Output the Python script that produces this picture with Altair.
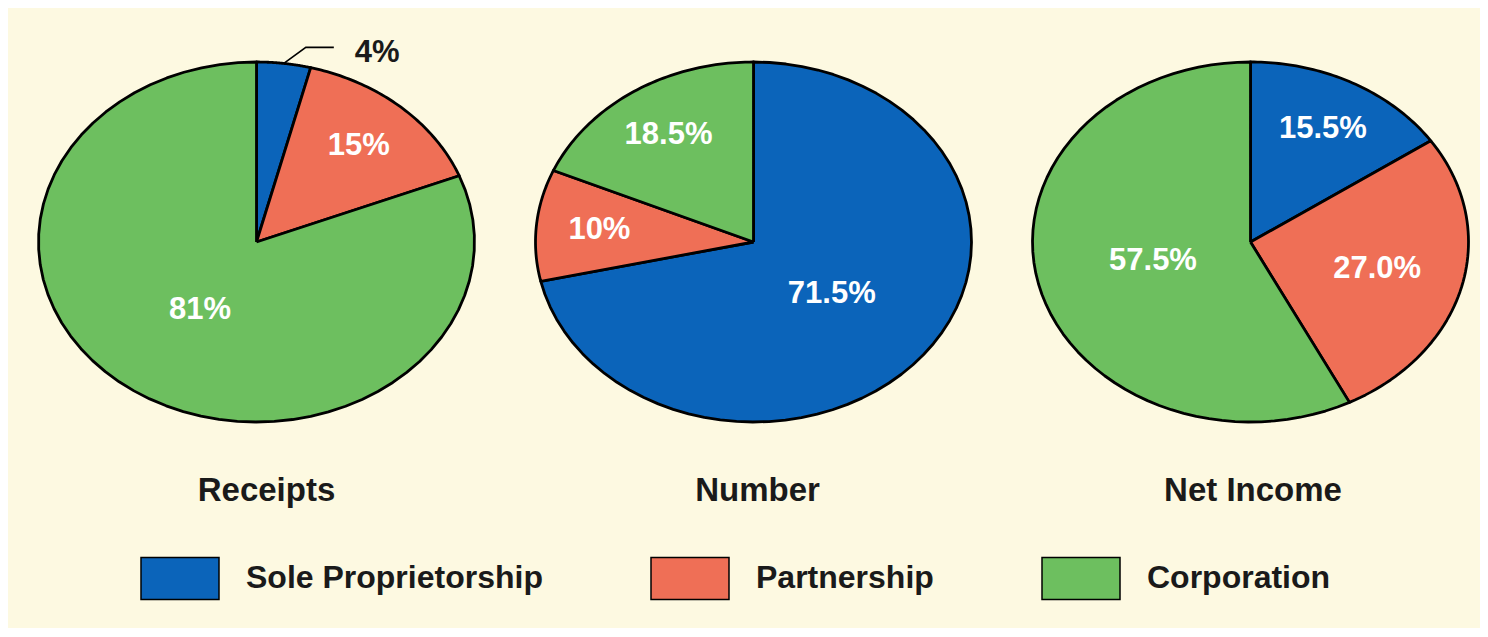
import altair as alt
import pandas as pd

# ---------------- data ----------------
pies = ["Receipts", "Number", "Net Income"]
categories = ["Sole Proprietorship", "Partnership", "Corporation"]
receipts = [4, 15, 81]
number = [71.5, 10, 18.5]
net_income = [15.5, 27.0, 57.5]
label_formats = ["{:.0f}%", "{:g}%", "{:.1f}%"]

# ---------------- style ----------------
colors = ["#0b64ba", "#ef6f56", "#6dbf5f"]
BG = "#fdf9e1"
FONT = "Liberation Sans"
TXT = "#1a1a1a"
RX, RY = 218.0, 180.0   # pixels per unit radius (horizontal / vertical)
H = 440                 # panel height
CY = 234                # pie centre from panel top
panel_widths = [497, 497, 478]
title_dx = [10, 4, 12]

rows = []
for pie, vals, fmt in zip(pies, [receipts, number, net_income], label_formats):
    for i, (cat, v) in enumerate(zip(categories, vals)):
        rows.append({"pie": pie, "cat": cat, "order": i, "value": v,
                     "label": fmt.format(v)})
df = pd.DataFrame(rows)

color_scale = alt.Scale(domain=categories, range=colors)

legend = alt.Legend(
    title=None, orient="none", legendX=132, legendY=530, direction="horizontal",
    symbolType="M-1,-0.54L1,-0.54L1,0.54L-1,0.54Z", symbolSize=6084,
    symbolStrokeColor="black", symbolStrokeWidth=1.5, symbolOpacity=1,
    labelFont=FONT, labelFontSize=32, labelFontWeight="bold", labelColor=TXT,
    labelOffset=26, columnPadding=105, padding=0, labelLimit=800,
)


def panel(name, width, tdx):
    cx = 248.5
    xs = alt.X("gx:Q", scale=alt.Scale(domain=[-cx / RX, (width - cx) / RX], nice=False, zero=False), axis=None)
    ys = alt.Y("gy:Q", scale=alt.Scale(domain=[-(H - CY) / RY, CY / RY], nice=False, zero=False), axis=None)

    poly = alt.Chart().transform_calculate(
        pts="sequence(-1, 62)"
    ).transform_flatten(["pts"], as_=["t"]).transform_calculate(
        ang="datum.a0 + (datum.a1 - datum.a0) * clamp(datum.t, 0, 60) / 60"
    ).transform_calculate(
        gx="(datum.t < 0 || datum.t > 60) ? 0 : sin(datum.ang)",
        gy="(datum.t < 0 || datum.t > 60) ? 0 : cos(datum.ang)",
    ).mark_line(stroke="black", strokeWidth=2.8, strokeJoin="round").encode(
        x=xs, y=ys, order="t:Q",
        fill=alt.Fill("cat:N", scale=color_scale, legend=legend),
        detail="cat:N",
    )

    labels = alt.Chart().transform_filter("datum.value >= 5").transform_calculate(
        r="datum.value > 50 ? 0.46 : (datum.value > 20 ? 0.6 : 0.71)"
    ).transform_calculate(
        gx="datum.r * sin(datum.amid)",
        gy="datum.r * cos(datum.amid)",
    ).mark_text(color="white", font=FONT, fontSize=31, fontWeight="bold",
                align="center", baseline="middle").encode(x=xs, y=ys, text="label:N")

    leader = alt.Chart().transform_filter("datum.value < 5").transform_calculate(
        ks="sequence(0, 3)"
    ).transform_flatten(["ks"], as_=["k"]).transform_calculate(
        gx="sin(datum.amid) + (datum.k == 0 ? 0 : (datum.k == 1 ? 22 : 50) / %f)" % RX,
        gy="cos(datum.amid) + (datum.k == 0 ? 0 : 16 / %f)" % RY,
    ).mark_line(color="black", strokeWidth=1.6).encode(
        x=xs, y=ys, order="k:Q", detail="cat:N"
    )

    outside = alt.Chart().transform_filter("datum.value < 5").transform_calculate(
        gx="sin(datum.amid)", gy="cos(datum.amid)"
    ).mark_text(color=TXT, font=FONT, fontSize=31, fontWeight="bold",
                align="left", baseline="middle", dx=71, dy=-10).encode(
        x=xs, y=ys, text="label:N"
    )

    return alt.layer(poly, labels, leader, outside).transform_filter(
        alt.datum.pie == name
    ).transform_window(
        cum="sum(value)", groupby=["pie"], sort=[alt.SortField("order")], frame=[None, 0]
    ).transform_calculate(
        a0="2 * PI * (datum.cum - datum.value) / 100",
        a1="2 * PI * datum.cum / 100",
    ).transform_calculate(
        amid="(datum.a0 + datum.a1) / 2"
    ).properties(
        width=width, height=H,
        title=alt.TitleParams(name, orient="bottom", anchor="middle", dx=tdx, offset=27,
                              font=FONT, fontSize=33, fontWeight="bold", color=TXT),
    )


chart = alt.hconcat(
    *[panel(n, w, d) for n, w, d in zip(pies, panel_widths, title_dx)],
    data=df, spacing=0,
).properties(
    background=BG, padding={"left": 0, "top": 0, "right": 0, "bottom": 25},
).configure_view(stroke=None)

chart.save("out.html", embed_options={"renderer": "svg", "actions": False})
